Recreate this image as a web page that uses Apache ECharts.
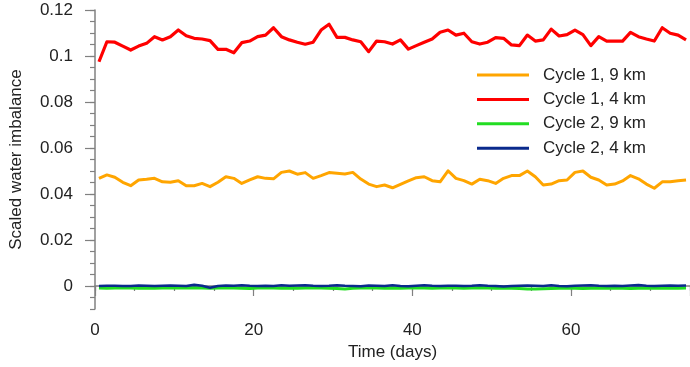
<!DOCTYPE html>
<html>
<head>
<meta charset="utf-8">
<script src="https://cdn.jsdelivr.net/npm/echarts@6/dist/echarts.min.js"></script>
<style>html,body{margin:0;padding:0;background:#fff}#c{width:690px;height:367px}</style>
</head>
<body>
<div id="c"></div>
<script>
// Data (daily values, plotted at mid-day)
const seriesNames = ['Cycle 1, 9 km', 'Cycle 1, 4 km', 'Cycle 2, 9 km', 'Cycle 2, 4 km'];
const dayOffset = 0.5;
const cycle1_9km = [0.0468,0.0483,0.0473,0.0451,0.0436,0.0461,0.0464,0.0468,0.0453,0.0451,0.0458,0.0436,0.0436,0.0446,0.0432,0.0451,0.0475,0.0468,0.0446,0.0461,0.0475,0.0468,0.0466,0.0494,0.0500,0.0486,0.0493,0.0468,0.0480,0.0493,0.0490,0.0487,0.0494,0.0465,0.0443,0.0432,0.0439,0.0427,0.0442,0.0457,0.0471,0.0475,0.0458,0.0453,0.0501,0.0468,0.0458,0.0443,0.0464,0.0458,0.0446,0.0468,0.0480,0.0480,0.0500,0.0475,0.0439,0.0443,0.0458,0.0461,0.0494,0.0500,0.0473,0.0461,0.0439,0.0443,0.0457,0.0480,0.0466,0.0443,0.0425,0.0453,0.0453,0.0458,0.0461];
const cycle1_4km = [0.0975,0.1062,0.1060,0.1043,0.1026,0.1043,0.1055,0.1084,0.1070,0.1084,0.1113,0.1088,0.1077,0.1074,0.1067,0.1029,0.1029,0.1014,0.1058,0.1065,0.1084,0.1091,0.1123,0.1084,0.1070,0.1060,0.1051,0.1060,0.1113,0.1138,0.1081,0.1081,0.1070,0.1062,0.1019,0.1065,0.1062,0.1052,0.1070,0.1030,0.1045,0.1060,0.1074,0.1103,0.1113,0.1091,0.1099,0.1062,0.1052,0.1060,0.1080,0.1077,0.1048,0.1045,0.1091,0.1065,0.1070,0.1117,0.1087,0.1093,0.1113,0.1093,0.1045,0.1084,0.1065,0.1065,0.1065,0.1103,0.1084,0.1074,0.1065,0.1123,0.1099,0.1091,0.1070];
const cycle2_9km = [-0.0009,-0.0010,-0.0009,-0.0008,-0.0009,-0.0010,-0.0009,-0.0010,-0.0009,-0.0008,-0.0009,-0.0009,-0.0008,-0.0009,-0.0010,-0.0009,-0.0008,-0.0009,-0.0010,-0.0011,-0.0009,-0.0008,-0.0009,-0.0010,-0.0009,-0.0010,-0.0009,-0.0008,-0.0009,-0.0010,-0.0011,-0.0013,-0.0010,-0.0009,-0.0008,-0.0009,-0.0010,-0.0009,-0.0010,-0.0009,-0.0008,-0.0009,-0.0010,-0.0009,-0.0008,-0.0009,-0.0010,-0.0009,-0.0008,-0.0009,-0.0010,-0.0009,-0.0010,-0.0011,-0.0013,-0.0013,-0.0012,-0.0011,-0.0010,-0.0009,-0.0010,-0.0011,-0.0010,-0.0009,-0.0010,-0.0009,-0.0010,-0.0011,-0.0010,-0.0009,-0.0010,-0.0009,-0.0010,-0.0010,-0.0009];
const cycle2_4km = [0.0000,0.0001,0.0001,0.0000,0.0000,0.0002,0.0001,0.0000,0.0001,0.0002,0.0001,0.0000,0.0005,0.0001,-0.0008,0.0000,0.0002,0.0001,0.0003,0.0001,0.0000,0.0001,0.0000,0.0003,0.0001,0.0002,0.0003,0.0001,0.0000,0.0001,0.0003,0.0001,0.0000,-0.0001,0.0002,0.0001,0.0000,0.0003,0.0000,-0.0001,0.0001,0.0003,0.0001,0.0000,0.0001,0.0001,0.0000,0.0001,0.0003,0.0001,0.0000,-0.0002,0.0000,0.0001,0.0002,0.0001,0.0000,0.0003,0.0000,-0.0001,0.0001,0.0002,0.0003,0.0001,0.0000,0.0001,0.0000,0.0002,0.0004,0.0001,0.0000,0.0001,0.0002,0.0001,0.0002];
const yTickLabels = [0, 0.02, 0.04, 0.06, 0.08, 0.1, 0.12];
const xTickLabels = [0, 20, 40, 60];

const colors = ['#ffa500', '#ff0000', '#22dd22', '#0a2a8c'];
const widths = [3, 3.2, 3, 2.6];
const allValues = [cycle1_9km, cycle1_4km, cycle2_9km, cycle2_4km];
const font = 'Liberation Sans, Arial, Helvetica, sans-serif';
const axisColor = '#808080';

const series = allValues.map((vals, k) => ({
  name: seriesNames[k],
  type: 'line',
  xAxisIndex: 0, yAxisIndex: 0,
  data: vals.map((v, i) => [i + dayOffset, v]),
  showSymbol: false,
  symbol: 'none',
  lineStyle: { color: colors[k], width: widths[k], join: 'round' },
  itemStyle: { color: colors[k] },
  z: 2 + k
}));

const chart = echarts.init(document.getElementById('c'), null, { renderer: 'canvas' });
chart.setOption({
  animation: false,
  backgroundColor: '#fff',
  grid: { left: 90, right: 0, top: 10, bottom: 58, containLabel: false },
  legend: {
    orient: 'vertical', left: 472, top: 61.5,
    icon: 'rect', itemWidth: 52, itemHeight: 3, itemGap: 7.4,
    textStyle: { fontFamily: font, fontSize: 17, color: '#222', lineHeight: 17, padding: [0, 0, 0, 9] },
    data: seriesNames
  },
  xAxis: [{
    type: 'value', min: 0, max: 75, interval: 20,
    name: 'Time (days)', nameLocation: 'middle', nameGap: 31,
    nameTextStyle: { fontFamily: font, fontSize: 17, color: '#222' },
    axisLine: { show: true, lineStyle: { color: axisColor, width: 1.5 } },
    axisTick: { show: true, length: 10, inside: false, lineStyle: { color: axisColor, width: 1.2 } },
    axisLabel: { fontFamily: font, fontSize: 17, color: '#222', margin: 13, customValues: xTickLabels,
      formatter: v => String(v) },
    splitLine: { show: false }
  }, {
    type: 'value', min: 0, max: 75, interval: 5, position: 'bottom',
    axisLine: { show: false },
    axisTick: { show: true, length: 5, inside: false, lineStyle: { color: axisColor, width: 1.2 } },
    axisLabel: { show: false },
    splitLine: { show: false }
  }],
  yAxis: [{
    type: 'value', min: -0.01, max: 0.12, interval: 0.01,
    name: 'Scaled water imbalance', nameLocation: 'middle', nameGap: 70,
    nameTextStyle: { fontFamily: font, fontSize: 17, color: '#222' },
    axisLine: { show: true, lineStyle: { color: axisColor, width: 1.5 } },
    axisTick: { show: true, length: 10, inside: false, customValues: yTickLabels, lineStyle: { color: axisColor, width: 1.2 } },
    axisLabel: { fontFamily: font, fontSize: 17, color: '#222', margin: 22, customValues: yTickLabels,
      formatter: v => String(+v.toFixed(2)) },
    splitLine: { show: false }
  }, {
    type: 'value', min: -0.01, max: 0.12, interval: 0.005, position: 'left',
    axisLine: { show: false },
    axisTick: { show: true, length: 5, inside: false, lineStyle: { color: axisColor, width: 1.2 } },
    axisLabel: { show: false },
    splitLine: { show: false }
  }],
  series: series
});
</script>
</body>
</html>
